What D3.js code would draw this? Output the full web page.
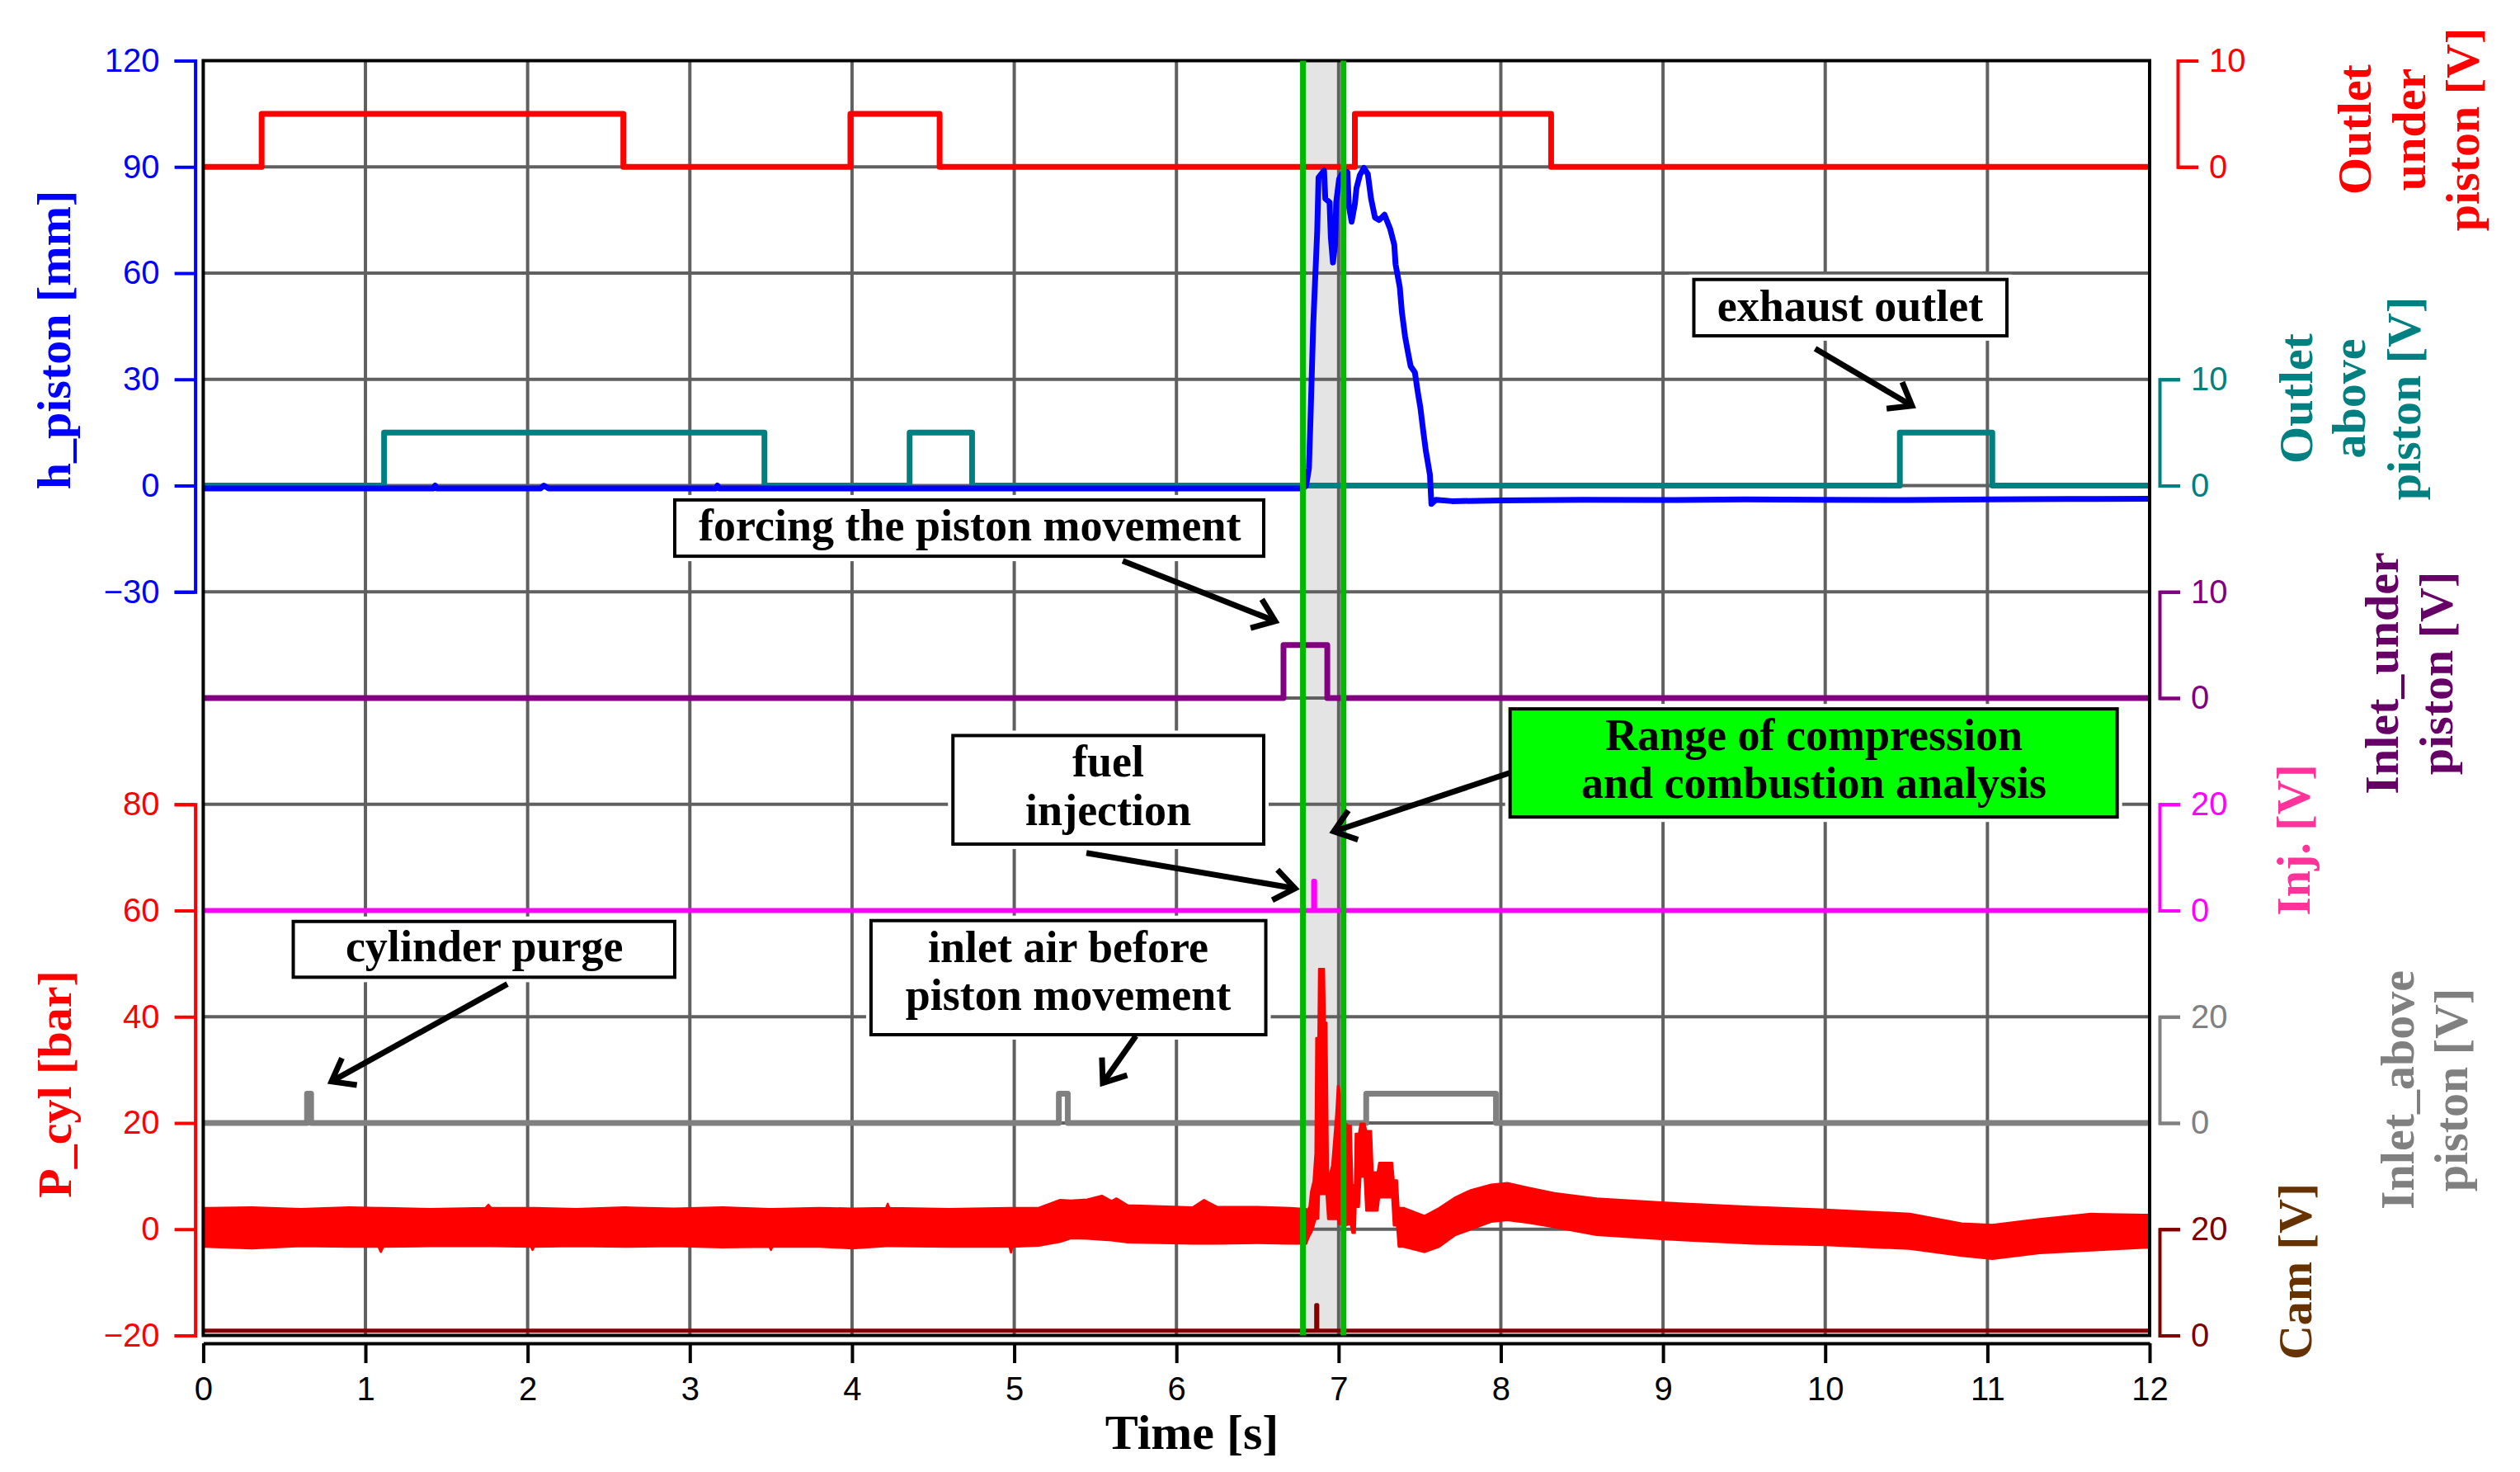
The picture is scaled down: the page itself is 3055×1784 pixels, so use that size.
<!DOCTYPE html>
<html>
<head>
<meta charset="utf-8">
<style>
body { margin: 0; background: #fff; }
svg { display: block; background: #fff; }
.lbl { font-family: "Liberation Serif", "DejaVu Serif", serif; font-weight: bold; }
</style>
<script src="https://cdn.jsdelivr.net/npm/d3@7"></script>
</head>
<body>
<svg id="chart" width="3055" height="1784"></svg>
<script>

/* ---------- data ---------- */

var timeTicks = [0, 1, 2, 3, 4, 5, 6, 7, 8, 9, 10, 11, 12];
var hTicks = [-30, 0, 30, 60, 90, 120];
var pTicks = [-20, 0, 20, 40, 60, 80];
var volt10Ticks = [0, 10];
var volt20Ticks = [0, 20];

// analysis window (green lines) [s]
var analysisWindow = [6.78, 7.03];

// valve / trigger signals, [time s, volt]
var outletUnder = [[0,0],[0.36,5],[2.59,0],[3.99,5],[4.54,0],[7.10,5],[8.31,0],[12,0]];
var outletAbove = [[0,0],[1.115,5],[3.46,0],[4.355,5],[4.74,0],[10.46,5],[11.03,0],[12,0]];
var inletUnder  = [[0,0],[6.66,5],[6.93,0],[12,0]];
var injection   = [[0,0],[6.846,5.5],[6.852,0],[12,0]];
var inletAbove  = [[0,0],[0.64,5.5],[0.665,0],[5.275,5.5],[5.33,0],[7.17,5.5],[7.97,0],[12,0]];
var cam         = [[0,0.9],[6.862,5.7],[6.868,0.9],[12,0.9]];

// piston position [time s, mm]
var hPiston = [[0,-0.8],[1.42,-0.8],[1.43,0],[1.44,-0.8],[2.08,-0.8],[2.1,0],[2.13,-0.8],[3.16,-0.8],[3.17,0],[3.18,-0.8],
  [6.78,-0.8],[6.80,0],[6.817,4.9],[6.826,18],[6.843,45],[6.868,72],[6.876,87],[6.91,89],[6.918,81],
  [6.944,80],[6.952,70],[6.965,63],[6.978,68],[6.985,80],[7.003,86.6],[7.02,88],[7.054,88.5],[7.063,79],
  [7.08,74.5],[7.10,79.5],[7.11,84],[7.131,87.7],[7.156,89.7],[7.18,88],[7.2,81],[7.224,75.7],[7.25,75],
  [7.283,76.5],[7.317,72.6],[7.343,68],[7.351,62.5],[7.377,56],[7.39,49],[7.41,42],[7.427,37.7],
  [7.444,33.7],[7.47,32],[7.487,26.7],[7.504,22],[7.52,16],[7.537,10],[7.563,3],[7.572,-5.2],[7.6,-4],
  [7.7,-4.4],[8,-4.2],[8.5,-4.0],[9,-4.1],[9.5,-3.9],[10,-4.0],[10.5,-4.1],[11,-3.9],[11.5,-3.8],[12,-3.7]];

// cylinder pressure, visible extent of the noisy trace: [time s, low bar, high bar]
var pBefore = [[0,-3.3,4.0],[0.3,-3.6,4.1],[0.6,-3.2,3.8],[0.9,-3.3,4.1],[1.08,-3.3,4.0],[1.095,-4.3,4.0],
  [1.11,-3.3,4.0],[1.4,-3.2,3.8],[1.74,-3.2,4.0],[1.758,-3.2,4.6],[1.775,-3.2,4.0],[2.02,-3.3,4.0],
  [2.03,-3.9,4.0],[2.04,-3.3,4.0],[2.3,-3.2,3.8],[2.6,-3.3,4.1],[2.9,-3.2,3.9],[3.2,-3.4,4.1],
  [3.49,-3.3,3.8],[3.50,-3.9,3.8],[3.51,-3.3,3.8],[3.8,-3.3,4.0],[4.0,-3.6,3.9],[4.21,-3.2,4.0],
  [4.22,-3.2,4.8],[4.23,-3.2,4.0],[4.6,-3.3,3.8],[4.97,-3.3,4.0],[4.98,-4.4,4.0],[4.99,-3.3,4.0],
  [5.15,-3.1,4.0],[5.28,-2.4,5.5],[5.35,-1.7,5.4],[5.45,-1.8,5.6],[5.54,-2.0,6.3],[5.6,-2.1,5.3],
  [5.63,-2.2,5.8],[5.7,-2.5,4.5],[5.9,-2.6,4.3],[6.1,-2.7,4.1],[6.17,-2.7,5.5],[6.25,-2.7,4.2],
  [6.5,-2.6,4.2],[6.7,-2.7,4.0],[6.80,-2.7,3.8]];
var pCombustion = [[6.80,-2.7,3.2],[6.82,-1.2,4.2],[6.83,-0.7,7.1],[6.845,0.5,9],[6.857,1.9,14.3],
  [6.862,1.9,36],[6.875,2.0,36],[6.879,6.6,49],[6.91,6.6,49],[6.915,6.6,39],[6.925,6.6,38.9],
  [6.935,1.9,9.2],[6.96,1.9,12],[6.985,1.9,21.6],[6.995,1.9,27],[7.0,1.0,27],[7.04,0.7,20],
  [7.06,0.9,19.5],[7.075,0.9,19.5],[7.085,-0.7,8.3],[7.1,-0.7,8.3],[7.105,4.2,18],[7.125,4.2,18],
  [7.135,9.9,19.9],[7.16,9.9,19.9],[7.17,3.5,18.5],[7.2,3.5,18.5],[7.21,3.5,10.7],[7.24,3.5,10.7],
  [7.25,6.0,12.5],[7.33,6.0,12.5],[7.34,0.7,9.2],[7.36,0.7,9.2],[7.37,-3.3,4.0],[7.40,-3.3,4.0]];
var pAfter = [[7.40,-3.3,4.0],[7.53,-4.3,2.5],[7.62,-3.3,4.0],[7.72,-1.1,6.0],[7.81,-0.1,7.3],
  [7.94,1.4,8.4],[8.04,1.7,8.7],[8.17,1.2,7.8],[8.33,0.4,6.8],[8.59,-1.1,5.8],[9.01,-1.9,5.0],
  [9.56,-2.7,4.2],[10.0,-3.0,3.7],[10.52,-3.7,2.9],[10.84,-5.0,1.1],[11.03,-5.6,0.8],[11.32,-4.5,1.9],
  [11.64,-4.0,2.9],[11.96,-3.5,2.7],[12,-3.5,2.7]];

/* ---------- layout ---------- */

var svg = d3.select("#chart");
var plotL = 246.4, plotR = 2606, plotT = 73.5, plotB = 1618.5;

var x = d3.scaleLinear().domain([0, 12]).range([plotL, plotR]);
var row = d3.scaleLinear().domain([0, 12]).range([plotT, plotB]);   // grid rows, used for annotations

function band(r0, r1, lo, hi) {
  return d3.scaleLinear().domain([lo, hi]).range([row(r1), row(r0)]);
}
var yH    = band(0, 5, -30, 120);
var yP    = band(7, 12, -20, 80);
var yOU   = band(0, 1, 0, 10);
var yOA   = band(3, 4, 0, 10);
var yIU   = band(5, 6, 0, 10);
var yInj  = band(7, 8, 0, 20);
var yIA   = band(9, 10, 0, 20);
var yCam  = band(11, 12, 0, 20);

// analysis shade
svg.append("rect")
  .attr("x", x(analysisWindow[0])).attr("y", plotT)
  .attr("width", x(analysisWindow[1]) - x(analysisWindow[0]))
  .attr("height", plotB - plotT)
  .attr("fill", "#e4e4e4");

// grid
var grid = svg.append("g").attr("stroke", "#606060").attr("stroke-width", 4);
grid.selectAll("line.v").data(timeTicks.slice(1, -1)).enter().append("line")
  .attr("x1", function(d) { return x(d); }).attr("x2", function(d) { return x(d); })
  .attr("y1", plotT).attr("y2", plotB);
grid.selectAll("line.h").data(d3.range(1, 12)).enter().append("line")
  .attr("x1", plotL).attr("x2", plotR)
  .attr("y1", function(d) { return row(d); }).attr("y2", function(d) { return row(d); });

// signals
function stepLine(scale) {
  return d3.line().curve(d3.curveStepAfter)
    .x(function(d) { return x(d[0]); })
    .y(function(d) { return scale(d[1]); });
}
function drawPath(data, gen, color, w) {
  svg.append("path").datum(data).attr("d", gen)
    .attr("fill", "none").attr("stroke", color).attr("stroke-width", w)
    .attr("stroke-linejoin", "round");
}

drawPath(outletUnder, stepLine(yOU), "#ff0000", 7);
drawPath(outletAbove, stepLine(yOA), "#008080", 7);
drawPath(inletUnder, stepLine(yIU), "#800080", 7);
drawPath(injection, stepLine(yInj), "#ff00ff", 6);
drawPath(inletAbove, stepLine(yIA), "#808080", 7);
drawPath(cam, stepLine(yCam), "#800000", 5);

// cylinder pressure
var pArea = d3.area()
  .x(function(d) { return x(d[0]); })
  .y0(function(d) { return yP(d[1]); })
  .y1(function(d) { return yP(d[2]); });
[pBefore, pCombustion, pAfter].forEach(function(seg) {
  svg.append("path").datum(seg).attr("d", pArea)
    .attr("fill", "#ff0000").attr("stroke", "#ff0000").attr("stroke-width", 2.5)
    .attr("stroke-linejoin", "round");
});

// piston
drawPath(hPiston, d3.line().x(function(d) { return x(d[0]); }).y(function(d) { return yH(d[1]); }), "#0000ff", 7);

// frame
svg.append("rect").attr("x", plotL).attr("y", plotT)
  .attr("width", plotR - plotL).attr("height", plotB - plotT)
  .attr("fill", "none").attr("stroke", "#000").attr("stroke-width", 4);

// green lines
svg.selectAll("line.green").data(analysisWindow).enter().append("line")
  .attr("x1", function(d) { return x(d); }).attr("x2", function(d) { return x(d); })
  .attr("y1", plotT).attr("y2", plotB)
  .attr("stroke", "#00b800").attr("stroke-width", 7);

/* ---------- axes ---------- */

function styleAxis(g, color) {
  g.selectAll("path, line").attr("stroke", color).attr("stroke-width", 4);
  g.selectAll("text").attr("fill", color)
    .style("font-family", "'Liberation Sans', Arial, sans-serif").style("font-size", "40px");
}

// x axis
var gx = svg.append("g").attr("transform", "translate(0,1628)")
  .call(d3.axisBottom(x).tickValues(timeTicks).tickSize(24).tickSizeOuter(0).tickPadding(17));
styleAxis(gx, "#000");

// left axes
var leftAxes = [
  { scale: yH, ticks: hTicks, color: "#0000ff" },
  { scale: yP, ticks: pTicks, color: "#ff0000" }
];
leftAxes.forEach(function(a) {
  var g = svg.append("g").attr("transform", "translate(236.6,0)")
    .call(d3.axisLeft(a.scale).tickValues(a.ticks).tickSize(25).tickPadding(18));
  styleAxis(g, a.color);
});

// right axes
var rightAxes = [
  { scale: yOU,  ticks: volt10Ticks, color: "#ff0000", at: 2640 },
  { scale: yOA,  ticks: volt10Ticks, color: "#008080", at: 2618 },
  { scale: yIU,  ticks: volt10Ticks, color: "#800080", at: 2618 },
  { scale: yInj, ticks: volt20Ticks, color: "#ff00ff", at: 2618 },
  { scale: yIA,  ticks: volt20Ticks, color: "#808080", at: 2618 },
  { scale: yCam, ticks: volt20Ticks, color: "#800000", at: 2618 }
];
rightAxes.forEach(function(a) {
  var g = svg.append("g").attr("transform", "translate(" + a.at + ",0)")
    .call(d3.axisRight(a.scale).tickValues(a.ticks).tickSize(25).tickPadding(13));
  styleAxis(g, a.color);
});

/* ---------- axis titles ---------- */

var titles = [
  { lines: ["h_piston [mm]"], base: [85], cy: 412, color: "#0000ff" },
  { lines: ["P_cyl [bar]"], base: [86], cy: 1314, color: "#ff0000" },
  { lines: ["Outlet", "under", "piston [V]"], base: [2874, 2940, 3005], cy: 157, color: "#ff0000" },
  { lines: ["Outlet", "above", "piston [V]"], base: [2803, 2867, 2934], cy: 483, color: "#008080" },
  { lines: ["Inlet_under", "piston [V]"], base: [2907, 2973], cy: 816, color: "#660066" },
  { lines: ["Inj. [V]"], base: [2800], cy: 1018, color: "#ff3399" },
  { lines: ["Inlet_above", "piston [V]"], base: [2926, 2991], cy: 1321, color: "#808080" },
  { lines: ["Cam [V]"], base: [2802], cy: 1541, color: "#663300" }
];
titles.forEach(function(t) {
  t.lines.forEach(function(s, i) {
    svg.append("text").attr("class", "lbl")
      .attr("transform", "translate(" + t.base[i] + "," + t.cy + ") rotate(-90)")
      .attr("text-anchor", "middle").attr("font-size", 58)
      .attr("fill", t.color).text(s);
  });
});

svg.append("text").attr("class", "lbl").attr("x", 1445).attr("y", 1756)
  .attr("text-anchor", "middle").attr("font-size", 60).text("Time [s]");

/* ---------- annotations (time / grid-row units) ---------- */

var notes = [
  { box: [9.19, 11.12, 2.06, 2.59], text: ["exhaust outlet"], base: [2.45], cx: 10.154,
    arrow: [9.938, 2.711, 10.535, 3.249] },
  { box: [2.907, 6.538, 4.135, 4.665], text: ["forcing the piston movement"], base: [4.515], cx: 4.726,
    arrow: [5.669, 4.709, 6.609, 5.276] },
  { box: [4.622, 6.538, 6.353, 7.375], text: ["fuel", "injection"], base: [6.736, 7.199], cx: 5.58,
    arrow: [5.445, 7.458, 6.731, 7.792] },
  { box: [8.057, 11.8, 6.102, 7.12], text: ["Range of compression", "and combustion analysis"], base: [6.487, 6.938],
    cx: 9.93, fill: "#00ff00", arrow: [8.054, 6.705, 6.97, 7.256] },
  { box: [0.555, 2.907, 8.103, 8.628], text: ["cylinder purge"], base: [8.474], cx: 1.733,
    arrow: [1.875, 8.692, 0.791, 9.609] },
  { box: [4.117, 6.551, 8.095, 9.169], text: ["inlet air before", "piston movement"], base: [8.483, 8.936], cx: 5.333,
    arrow: [5.75, 9.181, 5.546, 9.624] }
];

// hidden box edge under the green box
svg.append("line").attr("x1", x(8.16)).attr("x2", x(11.45))
  .attr("y1", row(7.14)).attr("y2", row(7.14))
  .attr("stroke", "#000").attr("stroke-width", 4);

notes.forEach(function(n) {
  var x0 = x(n.box[0]), x1 = x(n.box[1]), y0 = row(n.box[2]), y1 = row(n.box[3]);
  svg.append("rect").attr("x", x0 - 6).attr("y", y0 - 6)
    .attr("width", x1 - x0 + 12).attr("height", y1 - y0 + 12).attr("fill", "#fff");
  svg.append("rect").attr("x", x0).attr("y", y0)
    .attr("width", x1 - x0).attr("height", y1 - y0)
    .attr("fill", n.fill || "#fff").attr("stroke", "#000").attr("stroke-width", 4);
  n.text.forEach(function(s, i) {
    svg.append("text").attr("class", "lbl").attr("x", x(n.cx)).attr("y", row(n.base[i]))
      .attr("text-anchor", "middle").attr("font-size", 54).attr("fill", "#000").text(s);
  });

  var ax0 = x(n.arrow[0]), ay0 = row(n.arrow[1]), ax1 = x(n.arrow[2]), ay1 = row(n.arrow[3]);
  var ang = Math.atan2(ay1 - ay0, ax1 - ax0) + Math.PI, len = 31, spread = 37 * Math.PI / 180;
  var head = [
    [ax1 + len * Math.cos(ang - spread), ay1 + len * Math.sin(ang - spread)],
    [ax1, ay1],
    [ax1 + len * Math.cos(ang + spread), ay1 + len * Math.sin(ang + spread)]
  ];
  svg.append("line").attr("x1", ax0).attr("y1", ay0).attr("x2", ax1).attr("y2", ay1)
    .attr("stroke", "#000").attr("stroke-width", 7);
  svg.append("path").attr("d", d3.line()(head))
    .attr("fill", "none").attr("stroke", "#000").attr("stroke-width", 7)
    .attr("stroke-linejoin", "miter");
});

</script>
</body>
</html>
